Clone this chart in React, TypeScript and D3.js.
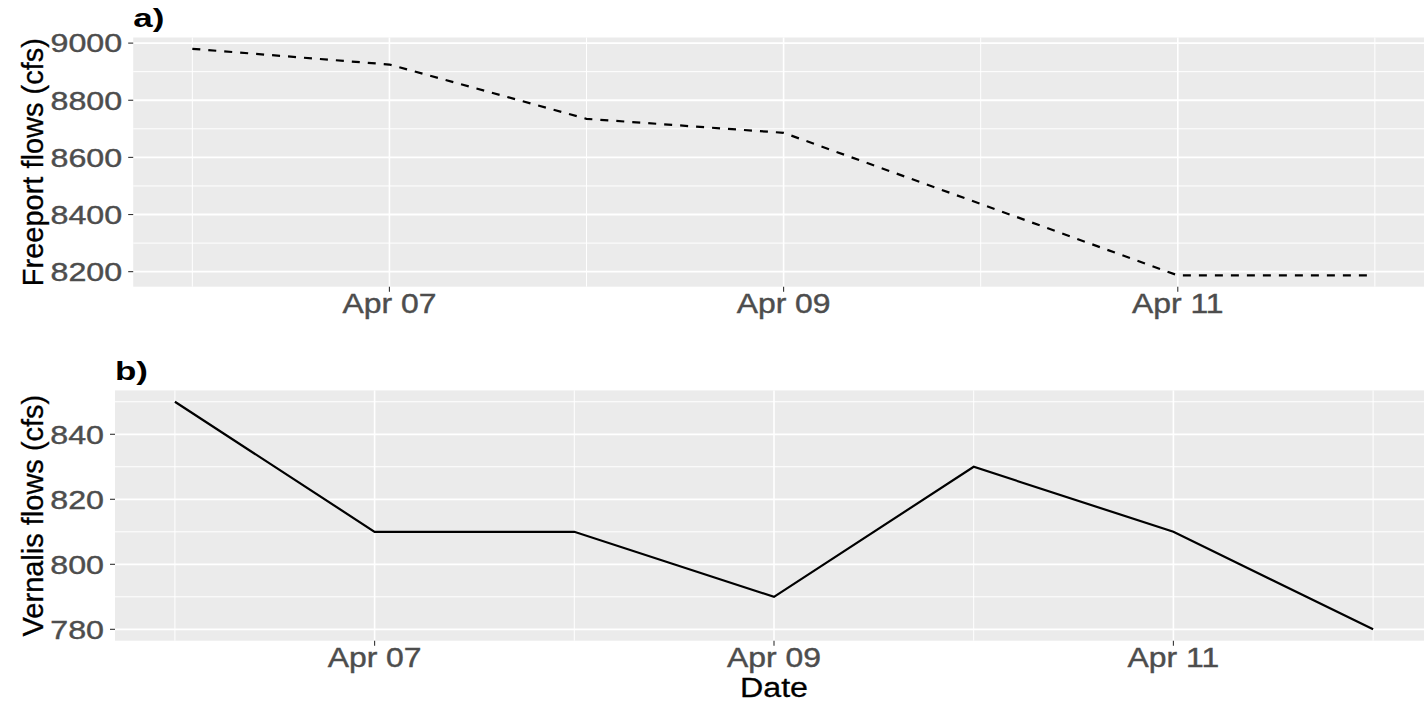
import React from 'react';
import * as d3 from 'd3';

// values
const dates = ['2021-04-06', '2021-04-07', '2021-04-08', '2021-04-09', '2021-04-10', '2021-04-11', '2021-04-12'];
const freeportFlows = [8980, 8925, 8735, 8686, 8437, 8187, 8187];
const vernalisFlows = [850, 810, 810, 790, 830, 810, 780];
const freeportTicks = [8200, 8400, 8600, 8800, 9000];
const vernalisTicks = [780, 800, 820, 840];
const dateTicks = ['2021-04-07', '2021-04-09', '2021-04-11'];
const dateMinorTicks = ['2021-04-06', '2021-04-08', '2021-04-10', '2021-04-12'];

const W = 1424;
const H = 702;
const FONT = '"Liberation Sans", Arial, Helvetica, sans-serif';

const parse = d3.timeParse('%Y-%m-%d');
const fmt = d3.timeFormat('%b %d');

interface PanelProps {
  values: number[];
  ticks: number[];
  tag: string;
  title: string;
  dashed?: boolean;
  left: number;
  right: number;
  top: number;
  bottom: number;
  tagY: number;
}

const Panel: React.FC<PanelProps> = ({ values, ticks, tag, title, dashed, left, right, top, bottom, tagY }) => {
  const ds = dates.map((d) => parse(d) as Date);
  const [t0, t1] = d3.extent(ds) as [Date, Date];
  const span = +t1 - +t0;
  const x = d3.scaleTime()
    .domain([new Date(+t0 - span * 0.05), new Date(+t1 + span * 0.05)])
    .range([left, right]);

  const [v0, v1] = d3.extent(values) as [number, number];
  const pad = (v1 - v0) * 0.05;
  const y = d3.scaleLinear().domain([v0 - pad, v1 + pad]).range([bottom, top]);

  // minor breaks halfway between majors
  const step = ticks[1] - ticks[0];
  const minor = [ticks[0] - step / 2, ...ticks.map((t) => t + step / 2)]
    .filter((t) => t >= y.domain()[0] && t <= y.domain()[1]);

  const line = d3.line<number>()
    .x((_, i) => x(ds[i]))
    .y((v) => y(v));

  return (
    <g>
      <text transform={`translate(${left},${tagY}) scale(1.4,1)`} fontSize={25} fill="#000" fontWeight="bold">{tag}</text>
      <rect x={left} y={top} width={right - left} height={bottom - top} fill="#EBEBEB" />
      {minor.map((t) => (
        <line key={'my' + t} x1={left} x2={right} y1={y(t)} y2={y(t)} stroke="#fff" strokeWidth={1} />
      ))}
      {dateMinorTicks.map((d) => (
        <line key={'mx' + d} x1={x(parse(d) as Date)} x2={x(parse(d) as Date)} y1={top} y2={bottom} stroke="#fff" strokeWidth={1} />
      ))}
      {ticks.map((t) => (
        <line key={'gy' + t} x1={left} x2={right} y1={y(t)} y2={y(t)} stroke="#fff" strokeWidth={1.8} />
      ))}
      {dateTicks.map((d) => (
        <line key={'gx' + d} x1={x(parse(d) as Date)} x2={x(parse(d) as Date)} y1={top} y2={bottom} stroke="#fff" strokeWidth={1.6} />
      ))}
      <path d={line(values) || undefined} fill="none" stroke="#000" strokeWidth={2.2}
        strokeDasharray={dashed ? '8,8' : undefined} />

      {/* y axis */}
      {ticks.map((t) => (
        <g key={'ty' + t}>
          <line x1={left - 5} x2={left} y1={y(t)} y2={y(t)} stroke="#333" strokeWidth={1.1} />
          <text transform={`translate(${left - 11},${y(t)}) scale(1.24,1)`} dy="0.36em" textAnchor="end"
            fontSize={26} fill="#4D4D4D" stroke="#4D4D4D" strokeWidth={0.4}>{t}</text>
        </g>
      ))}
      {/* x axis */}
      {dateTicks.map((d) => {
        const xx = x(parse(d) as Date);
        return (
          <g key={'tx' + d}>
            <line x1={xx} x2={xx} y1={bottom} y2={bottom + 5} stroke="#333" strokeWidth={1.1} />
            <text transform={`translate(${xx},${bottom + 26.6}) scale(1.16,1)`} textAnchor="middle"
              fontSize={27.5} fill="#4D4D4D" stroke="#4D4D4D" strokeWidth={0.4}>{fmt(parse(d) as Date)}</text>
          </g>
        );
      })}
      <text transform={`translate(42.5,${(top + bottom) / 2}) scale(1.04,1) rotate(-90)`} textAnchor="middle"
        fontSize={29} fill="#000" stroke="#000" strokeWidth={0.3}>{title}</text>
    </g>
  );
};

const App: React.FC = () => {
  return (
    <svg width={W} height={H} viewBox={`0 0 ${W} ${H}`}
      style={{ position: 'fixed', left: 0, top: 0, background: '#fff', fontFamily: FONT }}>
      <Panel values={freeportFlows} ticks={freeportTicks} tag="a)" title="Freeport flows (cfs)" dashed
        left={133.2} right={1434} top={37.5} bottom={286.7} tagY={27} />
      <Panel values={vernalisFlows} ticks={vernalisTicks} tag="b)" title="Vernalis flows (cfs)"
        left={115} right={1433} top={390.4} bottom={640.7} tagY={379.5} />
      <text transform={`translate(774,697) scale(1.15,1)`} textAnchor="middle" fontSize={28} fill="#000"
        stroke="#000" strokeWidth={0.3}>Date</text>
    </svg>
  );
};

export default App;
